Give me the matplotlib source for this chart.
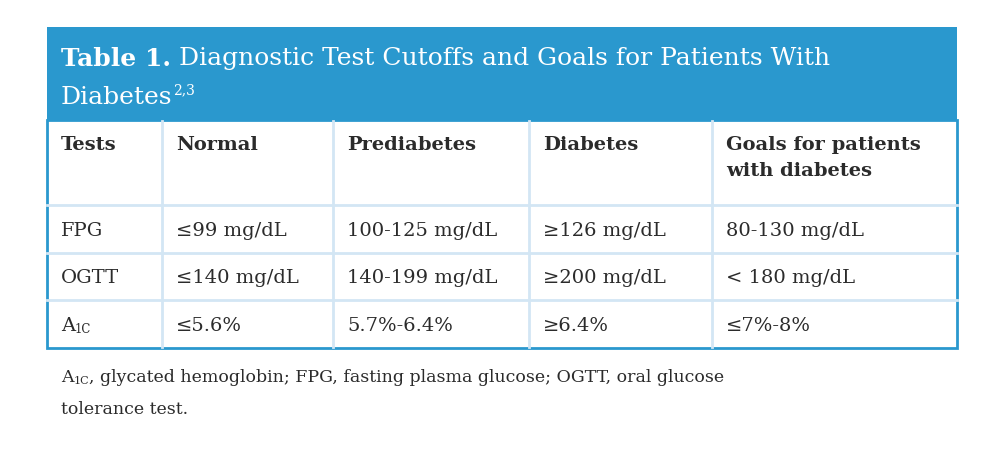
import matplotlib
matplotlib.use("Agg")
import matplotlib.pyplot as plt
from matplotlib.patches import Rectangle
from matplotlib.lines import Line2D

title_bold = "Table 1."
title_rest = " Diagnostic Test Cutoffs and Goals for Patients With"
title_line2 = "Diabetes"
title_sup = "2,3"
headers = ["Tests", "Normal", "Prediabetes", "Diabetes", "Goals for patients\nwith diabetes"]
row_tests = ["FPG", "OGTT", "A"]
normal = ["≤99 mg/dL", "≤140 mg/dL", "≤5.6%"]
prediabetes = ["100-125 mg/dL", "140-199 mg/dL", "5.7%-6.4%"]
diabetes = ["≥126 mg/dL", "≥200 mg/dL", "≥6.4%"]
goals = ["80-130 mg/dL", "< 180 mg/dL", "≤7%-8%"]
footnote1 = ", glycated hemoglobin; FPG, fasting plasma glucose; OGTT, oral glucose"
footnote2 = "tolerance test."

W, H = 982, 452
fig = plt.figure(figsize=(9.82, 4.52), dpi=100)
ax = fig.add_axes([0, 0, 1, 1])
ax.set_xlim(0, W); ax.set_ylim(H, 0); ax.axis("off")
BLUE = "#2A98CE"; LIGHT = "#D3E6F4"; TXT = "#2b2b2b"
SERIF = ["DejaVu Serif"]

L, R, T, HB = 47, 957, 28, 121
rows_y = [121, 206, 254, 301, 349]
cols_x = [47, 162, 333, 529, 712, 957]

ax.add_patch(Rectangle((L, T), R - L, HB - T, color=BLUE, lw=0))
for y in rows_y[1:-1]:
    ax.add_line(Line2D([L, R], [y, y], color=LIGHT, lw=2))
for x in cols_x[1:-1]:
    ax.add_line(Line2D([x, x], [HB + 1, rows_y[-1] - 1], color=LIGHT, lw=2))
ax.add_patch(Rectangle((L, HB), R - L, rows_y[-1] - HB, fill=False, ec=BLUE, lw=2))

TS = 18
t = ax.text(61, 59, title_bold, color="white", fontsize=TS, fontweight="bold", family=SERIF, va="center")
fig.canvas.draw()
ax.text(t.get_window_extent().x1, 59, title_rest, color="white", fontsize=TS, family=SERIF, va="center")
t2 = ax.text(61, 98, title_line2, color="white", fontsize=TS, family=SERIF, va="center")
fig.canvas.draw()
ax.text(t2.get_window_extent().x1 + 1, 90, title_sup, color="white", fontsize=10, family=SERIF, va="center")

pad = 14
for j, h in enumerate(headers):
    ax.text(cols_x[j] + pad, 136, h, fontsize=14, fontweight="bold", color=TXT,
            family=SERIF, va="top", linespacing=1.55)

cols = [row_tests, normal, prediabetes, diabetes, goals]
for i in range(3):
    yc = (rows_y[i + 1] + rows_y[i + 2]) / 2 + 1
    for j, col in enumerate(cols):
        tt = ax.text(cols_x[j] + pad, yc, col[i], fontsize=14, color=TXT, family=SERIF, va="center")
        if j == 0 and i == 2:
            fig.canvas.draw()
            ax.text(tt.get_window_extent().x1, yc + 4, "1C", fontsize=8.5, color=TXT, family=SERIF, va="center")

ft = ax.text(61, 378, "A", fontsize=12.5, color=TXT, family=SERIF, va="center")
fig.canvas.draw()
st = ax.text(ft.get_window_extent().x1, 381, "1C", fontsize=8, color=TXT, family=SERIF, va="center")
fig.canvas.draw()
ax.text(st.get_window_extent().x1, 378, footnote1, fontsize=12.5, color=TXT, family=SERIF, va="center")
ax.text(61, 410, footnote2, fontsize=12.5, color=TXT, family=SERIF, va="center")

fig.savefig("out.png", dpi=100)
